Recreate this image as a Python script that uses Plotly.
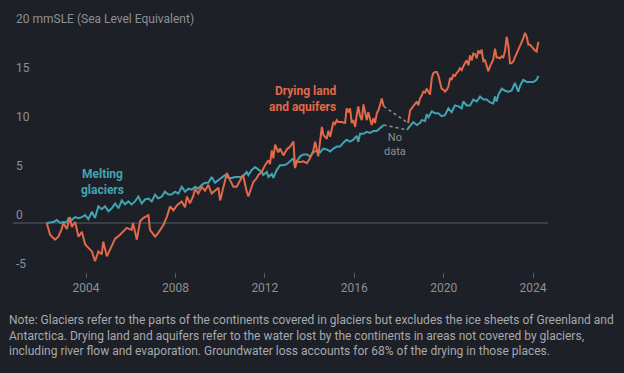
import plotly.graph_objects as go

# ---------------- data ----------------
dry1_year = [2002.24, 2002.39, 2002.61, 2002.76, 2002.91, 2002.98, 2003.14, 2003.28, 2003.36, 2003.51,
             2003.66, 2003.81, 2003.96, 2004.10, 2004.26, 2004.40, 2004.55, 2004.70, 2004.77, 2004.93,
             2005.15, 2005.30, 2005.52, 2005.82, 2006.04, 2006.10, 2006.27, 2006.42, 2006.56, 2006.79,
             2006.86, 2007.09, 2007.23, 2007.46, 2007.61, 2007.76, 2007.91, 2008.06, 2008.28, 2008.43,
             2008.51, 2008.65, 2008.80, 2008.88, 2009.02, 2009.18, 2009.32, 2009.47, 2009.62, 2009.77,
             2009.92, 2010.00, 2010.12, 2010.30, 2010.44, 2010.59, 2010.74, 2010.89, 2011.02, 2011.19,
             2011.26, 2011.41, 2011.49, 2011.61, 2011.71, 2011.86, 2011.93, 2012.01, 2012.16, 2012.23,
             2012.31, 2012.38, 2012.46, 2012.60, 2012.68, 2012.83, 2012.98, 2013.13, 2013.28, 2013.35,
             2013.43, 2013.58, 2013.72, 2013.88, 2014.02, 2014.17, 2014.25, 2014.32, 2014.39, 2014.55,
             2014.62, 2014.69, 2014.77, 2014.84, 2014.92, 2015.07, 2015.14, 2015.22, 2015.29, 2015.44,
             2015.59, 2015.66, 2015.74, 2015.81, 2015.89, 2015.96, 2016.04, 2016.11, 2016.18, 2016.26,
             2016.34, 2016.41, 2016.48, 2016.56, 2016.63, 2016.71, 2016.78, 2016.86, 2016.93, 2017.01,
             2017.08, 2017.15, 2017.23, 2017.32]
dry1_val = [0.0, -1.2, -1.7, -1.4, -0.6, 0.0, -0.6, 0.6, -0.4, 0.1,
            -1.4, -0.9, -2.2, -2.5, -2.9, -3.9, -2.9, -3.2, -1.9, -3.4,
            -2.4, -1.6, -1.2, -0.5, -0.7, 0.0, -1.7, 0.2, 0.5, 0.8,
            -0.7, -1.4, -1.0, -0.2, 0.6, 1.7, 1.3, 1.8, 2.2, 1.6,
            2.7, 2.0, 2.8, 3.5, 3.0, 3.7, 3.3, 3.9, 3.0, 3.3,
            3.6, 2.3, 3.5, 5.1, 4.4, 3.7, 3.7, 4.3, 4.9, 3.2,
            2.7, 3.7, 4.2, 4.5, 4.9, 5.2, 5.6, 5.9, 6.4, 6.0,
            7.4, 6.6, 8.0, 7.2, 7.6, 6.9, 7.5, 7.8, 8.3, 5.7,
            6.3, 6.2, 6.3, 6.1, 6.6, 7.4, 8.3, 7.7, 6.8, 9.8,
            9.0, 8.8, 8.6, 9.4, 8.8, 10.3, 10.1, 10.5, 10.3, 10.3,
            10.2, 11.7, 11.3, 11.7, 10.2, 10.5, 9.8, 11.0, 11.9, 10.9,
            10.5, 12.1, 11.3, 10.5, 11.3, 10.7, 10.0, 10.7, 10.2, 11.2,
            11.5, 12.0, 12.7, 11.9]

dry2_year = [2018.41, 2018.50, 2018.57, 2018.64, 2018.72, 2018.80, 2018.87, 2018.94, 2019.02, 2019.09,
             2019.17, 2019.24, 2019.32, 2019.39, 2019.47, 2019.54, 2019.62, 2019.69, 2019.76, 2019.84,
             2019.91, 2019.99, 2020.06, 2020.14, 2020.21, 2020.29, 2020.36, 2020.43, 2020.51, 2020.58,
             2020.66, 2020.73, 2020.81, 2020.88, 2020.96, 2021.03, 2021.11, 2021.18, 2021.26, 2021.33,
             2021.41, 2021.48, 2021.55, 2021.63, 2021.70, 2021.78, 2021.85, 2021.93, 2022.00, 2022.08,
             2022.15, 2022.22, 2022.30, 2022.37, 2022.45, 2022.52, 2022.60, 2022.67, 2022.75, 2022.82,
             2022.90, 2022.97, 2023.04, 2023.12, 2023.19, 2023.27, 2023.34, 2023.42, 2023.49, 2023.56,
             2023.64, 2023.72, 2023.79, 2023.87, 2023.94, 2024.01, 2024.09, 2024.16, 2024.24]
dry2_val = [10.2, 11.5, 11.7, 11.9, 12.2, 12.4, 12.0, 12.7, 13.0, 13.4,
            13.3, 13.7, 13.4, 13.1, 14.8, 15.3, 15.4, 15.4, 15.1, 14.4,
            13.7, 13.6, 13.4, 13.6, 13.9, 14.8, 14.6, 15.1, 15.0, 15.3,
            15.5, 15.8, 15.6, 16.0, 16.3, 16.6, 16.1, 17.1, 16.6, 17.3,
            17.2, 16.8, 17.6, 17.3, 17.7, 16.5, 16.6, 16.0, 15.5, 16.0,
            16.3, 16.7, 17.8, 16.9, 16.9, 16.8, 17.0, 16.9, 17.6, 19.0,
            18.0, 16.3, 16.3, 16.5, 16.9, 17.3, 17.6, 18.0, 18.3, 18.8,
            19.4, 19.0, 18.2, 18.2, 18.0, 17.8, 17.6, 17.5, 18.5]

gla1_year = [2002.24, 2002.39, 2002.54, 2002.69, 2002.84, 2002.98, 2003.14, 2003.21, 2003.36, 2003.51,
             2003.66, 2003.81, 2003.96, 2004.10, 2004.26, 2004.40, 2004.55, 2004.70, 2004.85, 2005.00,
             2005.15, 2005.30, 2005.45, 2005.60, 2005.74, 2005.89, 2006.04, 2006.19, 2006.34, 2006.49,
             2006.64, 2006.79, 2006.94, 2007.09, 2007.23, 2007.39, 2007.53, 2007.68, 2007.83, 2007.98,
             2008.13, 2008.28, 2008.43, 2008.58, 2008.73, 2008.88, 2009.02, 2009.18, 2009.32, 2009.47,
             2009.62, 2009.77, 2009.92, 2010.07, 2010.22, 2010.37, 2010.52, 2010.67, 2010.81, 2010.97,
             2011.11, 2011.19, 2011.26, 2011.41, 2011.56, 2011.71, 2011.86, 2011.93, 2012.09, 2012.16,
             2012.31, 2012.38, 2012.53, 2012.68, 2012.83, 2012.98, 2013.13, 2013.28, 2013.35, 2013.43,
             2013.58, 2013.72, 2013.88, 2014.02, 2014.17, 2014.32, 2014.47, 2014.62, 2014.77, 2014.92,
             2015.07, 2015.22, 2015.37, 2015.51, 2015.66, 2015.81, 2015.96, 2016.11, 2016.18, 2016.26,
             2016.41, 2016.56, 2016.71, 2016.86, 2017.01, 2017.15, 2017.32]
gla1_val = [0.0, 0.05, 0.1, 0.3, 0.0, 0.1, 0.05, 0.5, 0.3, 0.6,
            0.5, 0.6, 0.8, 0.4, 1.15, 0.5, 1.7, 1.4, 1.7, 1.2,
            1.5, 2.0, 1.5, 2.3, 1.9, 2.2, 1.9, 2.2, 2.7, 2.0,
            2.4, 2.5, 2.2, 2.9, 2.5, 2.7, 3.2, 2.9, 2.9, 3.2,
            3.0, 3.7, 3.2, 3.5, 3.4, 3.7, 3.5, 3.9, 4.1, 4.1,
            4.7, 4.1, 4.4, 4.6, 4.9, 4.6, 4.6, 4.7, 4.7, 4.7,
            5.0, 5.2, 4.9, 5.4, 5.7, 5.4, 5.2, 4.9, 5.2, 4.7,
            5.0, 4.6, 5.4, 5.9, 5.9, 6.0, 6.3, 6.6, 5.6, 6.3,
            6.8, 7.0, 7.0, 6.8, 7.2, 7.4, 7.2, 7.6, 7.5, 7.3,
            7.6, 7.8, 7.8, 8.2, 8.5, 8.3, 8.5, 8.9, 8.3, 9.1,
            9.1, 9.3, 9.2, 9.4, 9.4, 9.7, 10.0]

gla2_year = [2018.36, 2018.44, 2018.50, 2018.64, 2018.80, 2018.94, 2019.02, 2019.17, 2019.24, 2019.32,
             2019.47, 2019.62, 2019.76, 2019.91, 2020.06, 2020.21, 2020.36, 2020.51, 2020.66, 2020.81,
             2020.88, 2021.03, 2021.18, 2021.33, 2021.48, 2021.63, 2021.78, 2021.93, 2022.08, 2022.22,
             2022.30, 2022.37, 2022.45, 2022.60, 2022.75, 2022.90, 2023.04, 2023.19, 2023.27, 2023.34,
             2023.42, 2023.56, 2023.72, 2023.87, 2024.01, 2024.09, 2024.16, 2024.24]
gla2_val = [9.5, 9.8, 9.9, 10.3, 10.0, 10.2, 10.5, 10.4, 11.1, 10.8,
            11.4, 11.2, 11.2, 10.9, 11.0, 11.7, 11.3, 12.0, 11.9, 11.7,
            12.4, 12.0, 12.0, 12.6, 12.4, 12.9, 12.6, 12.6, 12.3, 12.2,
            12.9, 12.4, 13.1, 13.7, 13.5, 13.4, 13.5, 14.3, 13.9, 13.4,
            14.0, 14.6, 14.4, 14.4, 14.4, 14.5, 14.6, 15.0]

x_ticks = [2004, 2008, 2012, 2016, 2020, 2024]
y_ticks = [-5, 0, 5, 10, 15, 20]
y_ticktext = ["-5", "0", "5", "10", "15", "20 mmSLE (Sea Level Equivalent)"]

note = ("Note: Glaciers refer to the parts of the continents covered in glaciers but excludes the ice sheets of Greenland and<br>"
        "Antarctica. Drying land and aquifers refer to the water lost by the continents in areas not covered by glaciers,<br>"
        "including river flow and evaporation. Groundwater loss accounts for 68% of the drying in those places.")

# ---------------- style ----------------
BG = "#1d2026"
ORANGE = "#e2694a"
TEAL = "#41a4b4"
GRAY = "#8c9097"
FONT = "Roboto, 'Open Sans', sans-serif"

W, H = 624, 373
ML, MR, MT, MB = 13, 76, 27, 101
PW, PH = W - ML - MR, H - MT - MB

fig = go.Figure()

# dotted "no data" connectors
fig.add_trace(go.Scatter(x=[dry1_year[-1], dry2_year[0]], y=[dry1_val[-1], dry2_val[0]],
                         mode="lines", line=dict(color=GRAY, width=1.5, dash="dot"), hoverinfo="skip"))
fig.add_trace(go.Scatter(x=[gla1_year[-1], gla2_year[0]], y=[gla1_val[-1], gla2_val[0]],
                         mode="lines", line=dict(color=GRAY, width=1.5, dash="dot"), hoverinfo="skip"))

for xs, ys, c in [(gla1_year, gla1_val, TEAL), (gla2_year, gla2_val, TEAL),
                  (dry1_year, dry1_val, ORANGE), (dry2_year, dry2_val, ORANGE)]:
    fig.add_trace(go.Scatter(x=xs, y=ys, mode="lines",
                             line=dict(color=c, width=2, shape="linear"), hoverinfo="skip"))

fig.add_annotation(x=2015.27, y=12.65, xref="x", yref="y", text="<b>Drying land<br>and aquifers</b>",
                   showarrow=False, xanchor="right", yanchor="middle", align="right",
                   font=dict(family=FONT, size=12, color=ORANGE))
fig.add_annotation(x=2004.72, y=4.18, xref="x", yref="y", text="<b>Melting<br>glaciers</b>",
                   showarrow=False, xanchor="center", yanchor="middle", align="center",
                   font=dict(family=FONT, size=12, color=TEAL))
fig.add_annotation(x=2017.83, y=7.96, xref="x", yref="y", text="No<br>data",
                   showarrow=False, xanchor="center", yanchor="middle", align="center",
                   font=dict(family=FONT, size=11, color=GRAY))

fig.add_annotation(x=(7 - ML) / PW, y=(MT + PH - 311) / PH, xref="paper", yref="paper",
                   text=note, showarrow=False, xanchor="left", yanchor="top", align="left",
                   font=dict(family=FONT, size=12, color="#a6a9af"))

fig.update_layout(
    width=W, height=H,
    margin=dict(l=ML, r=MR, t=MT, b=MB, pad=0, autoexpand=False),
    paper_bgcolor=BG, plot_bgcolor=BG,
    showlegend=False,
    hovermode=False,
    font=dict(family=FONT, color=GRAY, size=12),
    xaxis=dict(range=[2000.73, 2024.67], tickvals=x_ticks, ticktext=[str(t) for t in x_ticks],
               showgrid=False, zeroline=False, showline=False, automargin=False,
               ticks="outside", ticklen=5, tickwidth=1, tickcolor="#555960",
               tickfont=dict(family=FONT, size=12, color=GRAY)),
    yaxis=dict(range=[-5, 20], tickvals=y_ticks, ticktext=y_ticktext,
               ticklabelposition="inside top", ticklabeloverflow="allow", automargin=False,
               showgrid=False,
               zeroline=True, zerolinecolor="#3a3e45", zerolinewidth=1.5,
               showline=False, ticks="",
               tickfont=dict(family=FONT, size=12, color=GRAY)),
)

fig.write_html("out.html", config={"displayModeBar": False},
               post_script="document.body.style.margin='0';document.body.style.background='%s';" % BG)
